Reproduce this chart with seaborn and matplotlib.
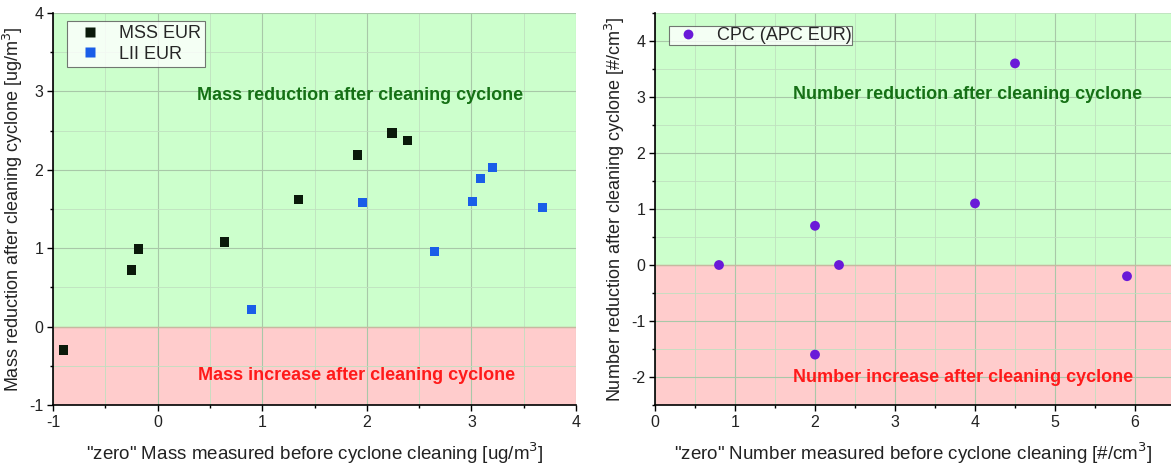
import numpy as np
import pandas as pd
import matplotlib
matplotlib.use("Agg")
import matplotlib.pyplot as plt
import seaborn as sns
from matplotlib.ticker import MultipleLocator

# Data
mss_x = [-0.9, -0.25, -0.18, 0.64, 1.35, 1.91, 2.24, 2.39]
mss_y = [-0.30, 0.72, 0.99, 1.08, 1.62, 2.19, 2.47, 2.37]
lii_x = [0.90, 1.96, 2.65, 3.01, 3.09, 3.20, 3.68]
lii_y = [0.22, 1.58, 0.96, 1.60, 1.89, 2.03, 1.52]
cpc_x = [0.8, 2.0, 2.0, 2.3, 4.0, 4.5, 5.9]
cpc_y = [0.0, 0.7, -1.6, 0.0, 1.1, 3.6, -0.2]

sns.set_theme(style="white")
plt.rcParams['font.family'] = ['Liberation Sans', 'DejaVu Sans']
plt.rcParams['axes.unicode_minus'] = False

fig = plt.figure(figsize=(11.71, 4.65), dpi=100)
ax1 = fig.add_axes([53/1171, 60/465, 523/1171, 392/465])
ax2 = fig.add_axes([655/1171, 60/465, 516/1171, 392/465])

green = "#ccffcc"
red = "#ffcccc"

def style(ax, xlim, ylim, xmaj, ymaj):
    ax.set_xlim(*xlim)
    ax.set_ylim(*ylim)
    ax.axhspan(0, ylim[1], color=green, zorder=0, lw=0)
    ax.axhspan(ylim[0], 0, color=red, zorder=0, lw=0)
    ax.axhline(0, color="#c8b8a0", lw=1, zorder=1)
    ax.xaxis.set_major_locator(MultipleLocator(xmaj))
    ax.xaxis.set_minor_locator(MultipleLocator(xmaj / 2))
    ax.yaxis.set_major_locator(MultipleLocator(ymaj))
    ax.yaxis.set_minor_locator(MultipleLocator(ymaj / 2))
    ax.grid(which="major", color="#a8c8a8", lw=0.8, zorder=1)
    ax.grid(which="minor", color="#bfe0bf", lw=0.6, zorder=1)
    ax.set_axisbelow(True)
    for s in ["top", "right"]:
        ax.spines[s].set_visible(False)
    for s in ["left", "bottom"]:
        ax.spines[s].set_color("black")
        ax.spines[s].set_linewidth(1.2)
    ax.tick_params(which="major", direction="out", length=4, width=1, color="black",
                   labelsize=11.5, left=True, bottom=True, labelcolor="#222222", pad=3)
    ax.tick_params(which="minor", direction="out", length=2.5, width=1, color="black",
                   left=True, bottom=True)

# Left panel
df_m = pd.DataFrame({"x": mss_x + lii_x, "y": mss_y + lii_y,
                     "series": ["MSS EUR"] * len(mss_x) + ["LII EUR"] * len(lii_x)})
style(ax1, (-1, 4), (-1, 4), 1, 1)
sns.scatterplot(data=df_m, x="x", y="y", hue="series",
                palette={"MSS EUR": "#0a1a0a", "LII EUR": "#1a5ee8"},
                marker="s", s=45, edgecolor="none", ax=ax1, zorder=3)
ax1.text(1.94, 2.95, "Mass reduction after cleaning cyclone", color="#157015",
         fontsize=13, fontweight="bold", ha="center", va="center")
ax1.text(1.9, -0.62, "Mass increase after cleaning cyclone", color="#ff1a1a",
         fontsize=13, fontweight="bold", ha="center", va="center")
ax1.set_xlabel('"zero" Mass measured before cyclone cleaning [ug/m$^3$]', fontsize=13.5,
               color="#222222", labelpad=8)
ax1.set_ylabel('Mass reduction after cleaning cyclone [ug/m$^3$]', fontsize=13,
               color="#222222", labelpad=3)
leg = ax1.legend(loc="upper left", bbox_to_anchor=(0.02, 0.99), fontsize=13,
                 frameon=True, fancybox=False, edgecolor="#555555", borderpad=0.25,
                 handletextpad=0.6, labelspacing=0.2, borderaxespad=0.2)
leg.get_frame().set_linewidth(0.8)

# Right panel
df_c = pd.DataFrame({"x": cpc_x, "y": cpc_y, "series": ["CPC (APC EUR)"] * len(cpc_x)})
style(ax2, (0, 6.45), (-2.5, 4.5), 1, 1)
sns.scatterplot(data=df_c, x="x", y="y", hue="series",
                palette={"CPC (APC EUR)": "#6a1ad8"},
                marker="o", s=50, edgecolor="none", ax=ax2, zorder=3)
ax2.text(3.91, 3.04, "Number reduction after cleaning cyclone", color="#157015",
         fontsize=13, fontweight="bold", ha="center", va="center")
ax2.text(3.85, -2.0, "Number increase after cleaning cyclone", color="#ff1a1a",
         fontsize=13, fontweight="bold", ha="center", va="center")
ax2.set_xlabel('"zero" Number measured before cyclone cleaning [#/cm$^3$]', fontsize=13.5,
               color="#222222", labelpad=8)
ax2.set_ylabel('Number reduction after cleaning cyclone [#/cm$^3$]', fontsize=13,
               color="#222222", labelpad=3)
leg2 = ax2.legend(loc="upper left", bbox_to_anchor=(0.02, 0.975), fontsize=13,
                  frameon=True, fancybox=False, edgecolor="#555555", borderpad=0.05,
                  handletextpad=0.6, borderaxespad=0.2)
leg2.get_frame().set_linewidth(0.8)

fig.savefig("out.png", dpi=100)
